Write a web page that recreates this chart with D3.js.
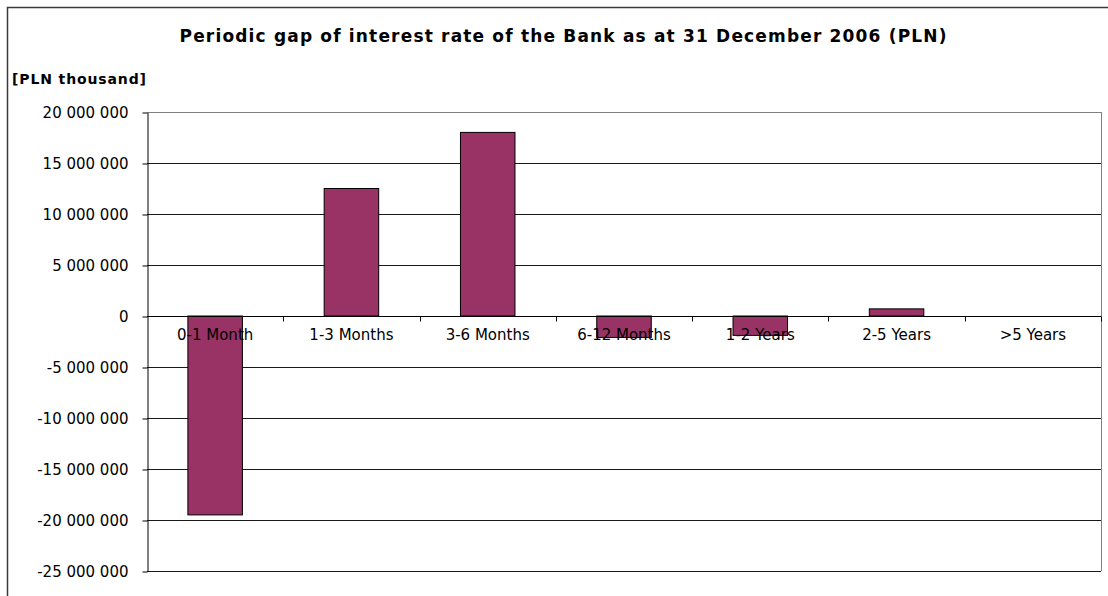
<!DOCTYPE html>
<html lang="en">
  <head>
    <meta charset="utf-8">
    <title>Periodic gap of interest rate</title>
    <script src="https://d3js.org/d3.v7.js"></script>
    <style>
      body { margin: 0; background: #fff; }
      text { font-family: "DejaVu Sans", Verdana, sans-serif; fill: #000; }
    </style>
  </head>
  <body>
  <script>

// chart data
var categories = ["0-1 Month", "1-3 Months", "3-6 Months", "6-12 Months", "1-2 Years", "2-5 Years", ">5 Years"];
var gapValues = [-19500000, 12500000, 18000000, -2100000, -1900000, 700000, 0];
var yTicks = [20000000, 15000000, 10000000, 5000000, 0, -5000000, -10000000, -15000000, -20000000, -25000000];

var w = 1108;
var h = 596;
var margin = {top: 112, right: 7, bottom: 25, left: 147};
var innerWidth = w - margin.left - margin.right;
var innerHeight = h - margin.top - margin.bottom;

var svg = d3.select("body")
  .append("svg")
    .attr("width", w)
    .attr("height", h);

// outer chart border
svg.append("path")
  .attr("d", "M7.5," + h + "V7.5H" + w)
  .attr("fill", "none")
  .attr("stroke", "#3a3a3a")
  .attr("stroke-width", 1.5);

var locale = d3.formatLocale({decimal: ".", thousands: " ", grouping: [3], currency: ["", ""], minus: "-"});
var fmt = locale.format(",d");

var yScale = d3.scaleLinear()
  .domain([-25000000, 20000000])
  .range([margin.top + innerHeight, margin.top]);

var xBand = d3.scaleBand()
  .domain(categories)
  .range([margin.left, margin.left + innerWidth]);

var xBar = d3.scaleBand()
  .domain(categories)
  .range([margin.left, margin.left + innerWidth])
  .paddingInner(0.6)
  .paddingOuter(0.3);

// gridlines
svg.append("g")
  .selectAll("line")
  .data(yTicks)
  .join("line")
    .attr("x1", margin.left)
    .attr("x2", margin.left + innerWidth)
    .attr("y1", d => Math.round(yScale(d)) + 0.5)
    .attr("y2", d => Math.round(yScale(d)) + 0.5)
    .attr("stroke", (d, i) => i == 0 ? "#808080" : "#1a1a1a")
    .attr("stroke-width", 1);

// plot area right border
svg.append("line")
  .attr("x1", margin.left + innerWidth + 0.5)
  .attr("x2", margin.left + innerWidth + 0.5)
  .attr("y1", margin.top)
  .attr("y2", margin.top + innerHeight)
  .attr("stroke", "#808080");

// bars
svg.selectAll(".bar")
  .data(gapValues)
  .join("rect")
    .attr("class", "bar")
    .attr("x", (d, i) => xBar(categories[i]))
    .attr("y", d => yScale(Math.max(d, 0)))
    .attr("width", xBar.bandwidth())
    .attr("height", d => Math.abs(yScale(d) - yScale(0)))
    .attr("fill", "#993366")
    .attr("stroke", "#000")
    .attr("stroke-width", 1);

// y axis
var yAxis = d3.axisLeft(yScale)
  .tickValues(yTicks)
  .tickFormat(fmt)
  .tickSizeInner(5)
  .tickSizeOuter(0)
  .tickPadding(14);
var gy = svg.append("g")
  .attr("transform", "translate(" + (margin.left + 0.5) + ",0.5)")
  .call(yAxis);
gy.selectAll("text").style("font-size", "15px");
gy.selectAll("line, path").attr("stroke", "#000");

// x axis at zero
var y0 = Math.round(yScale(0)) + 0.5;
svg.append("line")
  .attr("x1", margin.left)
  .attr("x2", margin.left + innerWidth)
  .attr("y1", y0)
  .attr("y2", y0)
  .attr("stroke", "#000");

var boundaries = categories.map(c => xBand(c)).concat([margin.left + innerWidth]);
svg.append("g")
  .selectAll("line")
  .data(boundaries.slice(1))
  .join("line")
    .attr("x1", d => Math.round(d) + 0.5)
    .attr("x2", d => Math.round(d) + 0.5)
    .attr("y1", y0)
    .attr("y2", y0 + 5)
    .attr("stroke", "#000");

svg.append("g")
  .selectAll("text")
  .data(categories)
  .join("text")
    .attr("x", d => xBand(d) + xBand.bandwidth() / 2)
    .attr("y", y0 + 23)
    .attr("text-anchor", "middle")
    .style("font-size", "15px")
    .text(d => d);

// titles
svg.append("text")
  .attr("x", 563)
  .attr("y", 42)
  .attr("text-anchor", "middle")
  .attr("textLength", 767)
  .attr("lengthAdjust", "spacing")
  .style("font-size", "17px")
  .style("font-weight", "bold")
  .text("Periodic gap of interest rate of the Bank as at 31 December 2006 (PLN)");

svg.append("text")
  .attr("x", 12)
  .attr("y", 84)
  .attr("textLength", 134)
  .attr("lengthAdjust", "spacing")
  .style("font-size", "14px")
  .style("font-weight", "bold")
  .text("[PLN thousand]");

  </script>
  </body>
</html>
